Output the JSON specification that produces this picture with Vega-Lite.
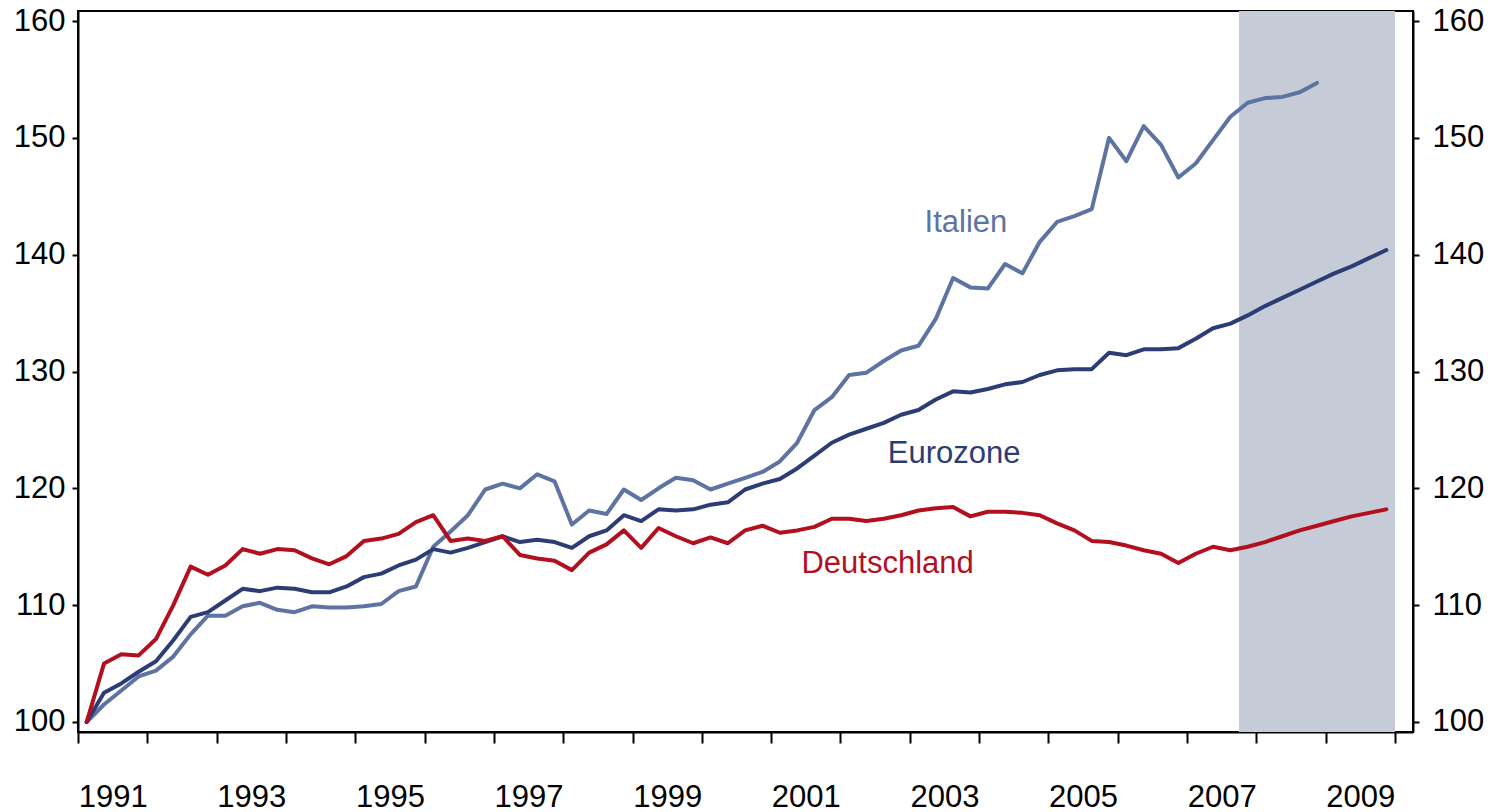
{
  "$schema": "https://vega.github.io/schema/vega-lite/v6.json",
  "width": 1335,
  "height": 721,
  "autosize": "none",
  "padding": {"left": 78, "top": 11, "right": 90, "bottom": 80},
  "background": "white",
  "config": {
    "view": {"stroke": "black", "strokeWidth": 2},
    "axis": {"grid": false, "labelFont": "Liberation Sans", "labelFontSize": 31, "labelColor": "black", "domainColor": "black", "domainWidth": 2, "tickColor": "black", "tickWidth": 2}
  },
  "datasets": {
    "series": [
      {"t":1991.125,"s":"Italien","v":100},{"t":1991.375,"s":"Italien","v":101.5},{"t":1991.625,"s":"Italien","v":102.7},{"t":1991.875,"s":"Italien","v":103.9},
      {"t":1992.125,"s":"Italien","v":104.4},{"t":1992.375,"s":"Italien","v":105.6},{"t":1992.625,"s":"Italien","v":107.5},{"t":1992.875,"s":"Italien","v":109.1},
      {"t":1993.125,"s":"Italien","v":109.1},{"t":1993.375,"s":"Italien","v":109.9},{"t":1993.625,"s":"Italien","v":110.2},{"t":1993.875,"s":"Italien","v":109.6},
      {"t":1994.125,"s":"Italien","v":109.4},{"t":1994.375,"s":"Italien","v":109.9},{"t":1994.625,"s":"Italien","v":109.8},{"t":1994.875,"s":"Italien","v":109.8},
      {"t":1995.125,"s":"Italien","v":109.9},{"t":1995.375,"s":"Italien","v":110.1},{"t":1995.625,"s":"Italien","v":111.2},{"t":1995.875,"s":"Italien","v":111.6},
      {"t":1996.125,"s":"Italien","v":115.0},{"t":1996.375,"s":"Italien","v":116.3},{"t":1996.625,"s":"Italien","v":117.7},{"t":1996.875,"s":"Italien","v":119.9},
      {"t":1997.125,"s":"Italien","v":120.4},{"t":1997.375,"s":"Italien","v":120.0},{"t":1997.625,"s":"Italien","v":121.2},{"t":1997.875,"s":"Italien","v":120.6},
      {"t":1998.125,"s":"Italien","v":116.9},{"t":1998.375,"s":"Italien","v":118.1},{"t":1998.625,"s":"Italien","v":117.8},{"t":1998.875,"s":"Italien","v":119.9},
      {"t":1999.125,"s":"Italien","v":119.0},{"t":1999.375,"s":"Italien","v":120.0},{"t":1999.625,"s":"Italien","v":120.9},{"t":1999.875,"s":"Italien","v":120.7},
      {"t":2000.125,"s":"Italien","v":119.9},{"t":2000.375,"s":"Italien","v":120.4},{"t":2000.625,"s":"Italien","v":120.9},{"t":2000.875,"s":"Italien","v":121.4},
      {"t":2001.125,"s":"Italien","v":122.3},{"t":2001.375,"s":"Italien","v":123.9},{"t":2001.625,"s":"Italien","v":126.7},{"t":2001.875,"s":"Italien","v":127.8},
      {"t":2002.125,"s":"Italien","v":129.7},{"t":2002.375,"s":"Italien","v":129.9},{"t":2002.625,"s":"Italien","v":130.9},{"t":2002.875,"s":"Italien","v":131.8},
      {"t":2003.125,"s":"Italien","v":132.2},{"t":2003.375,"s":"Italien","v":134.5},{"t":2003.625,"s":"Italien","v":138.0},{"t":2003.875,"s":"Italien","v":137.2},
      {"t":2004.125,"s":"Italien","v":137.1},{"t":2004.375,"s":"Italien","v":139.2},{"t":2004.625,"s":"Italien","v":138.4},{"t":2004.875,"s":"Italien","v":141.1},
      {"t":2005.125,"s":"Italien","v":142.8},{"t":2005.375,"s":"Italien","v":143.3},{"t":2005.625,"s":"Italien","v":143.9},{"t":2005.875,"s":"Italien","v":150.0},
      {"t":2006.125,"s":"Italien","v":148.0},{"t":2006.375,"s":"Italien","v":151.0},{"t":2006.625,"s":"Italien","v":149.4},{"t":2006.875,"s":"Italien","v":146.6},
      {"t":2007.125,"s":"Italien","v":147.8},{"t":2007.375,"s":"Italien","v":149.8},{"t":2007.625,"s":"Italien","v":151.8},{"t":2007.875,"s":"Italien","v":153.0},
      {"t":2008.125,"s":"Italien","v":153.4},{"t":2008.375,"s":"Italien","v":153.5},{"t":2008.625,"s":"Italien","v":153.9},{"t":2008.875,"s":"Italien","v":154.7},

      {"t":1991.125,"s":"Eurozone","v":100},{"t":1991.375,"s":"Eurozone","v":102.5},{"t":1991.625,"s":"Eurozone","v":103.3},{"t":1991.875,"s":"Eurozone","v":104.3},
      {"t":1992.125,"s":"Eurozone","v":105.2},{"t":1992.375,"s":"Eurozone","v":107.0},{"t":1992.625,"s":"Eurozone","v":109.0},{"t":1992.875,"s":"Eurozone","v":109.4},
      {"t":1993.125,"s":"Eurozone","v":110.4},{"t":1993.375,"s":"Eurozone","v":111.4},{"t":1993.625,"s":"Eurozone","v":111.2},{"t":1993.875,"s":"Eurozone","v":111.5},
      {"t":1994.125,"s":"Eurozone","v":111.4},{"t":1994.375,"s":"Eurozone","v":111.1},{"t":1994.625,"s":"Eurozone","v":111.1},{"t":1994.875,"s":"Eurozone","v":111.6},
      {"t":1995.125,"s":"Eurozone","v":112.4},{"t":1995.375,"s":"Eurozone","v":112.7},{"t":1995.625,"s":"Eurozone","v":113.4},{"t":1995.875,"s":"Eurozone","v":113.9},
      {"t":1996.125,"s":"Eurozone","v":114.8},{"t":1996.375,"s":"Eurozone","v":114.5},{"t":1996.625,"s":"Eurozone","v":114.9},{"t":1996.875,"s":"Eurozone","v":115.4},
      {"t":1997.125,"s":"Eurozone","v":115.9},{"t":1997.375,"s":"Eurozone","v":115.4},{"t":1997.625,"s":"Eurozone","v":115.6},{"t":1997.875,"s":"Eurozone","v":115.4},
      {"t":1998.125,"s":"Eurozone","v":114.9},{"t":1998.375,"s":"Eurozone","v":115.9},{"t":1998.625,"s":"Eurozone","v":116.4},{"t":1998.875,"s":"Eurozone","v":117.7},
      {"t":1999.125,"s":"Eurozone","v":117.2},{"t":1999.375,"s":"Eurozone","v":118.2},{"t":1999.625,"s":"Eurozone","v":118.1},{"t":1999.875,"s":"Eurozone","v":118.2},
      {"t":2000.125,"s":"Eurozone","v":118.6},{"t":2000.375,"s":"Eurozone","v":118.8},{"t":2000.625,"s":"Eurozone","v":119.9},{"t":2000.875,"s":"Eurozone","v":120.4},
      {"t":2001.125,"s":"Eurozone","v":120.8},{"t":2001.375,"s":"Eurozone","v":121.7},{"t":2001.625,"s":"Eurozone","v":122.8},{"t":2001.875,"s":"Eurozone","v":123.9},
      {"t":2002.125,"s":"Eurozone","v":124.6},{"t":2002.375,"s":"Eurozone","v":125.1},{"t":2002.625,"s":"Eurozone","v":125.6},{"t":2002.875,"s":"Eurozone","v":126.3},
      {"t":2003.125,"s":"Eurozone","v":126.7},{"t":2003.375,"s":"Eurozone","v":127.6},{"t":2003.625,"s":"Eurozone","v":128.3},{"t":2003.875,"s":"Eurozone","v":128.2},
      {"t":2004.125,"s":"Eurozone","v":128.5},{"t":2004.375,"s":"Eurozone","v":128.9},{"t":2004.625,"s":"Eurozone","v":129.1},{"t":2004.875,"s":"Eurozone","v":129.7},
      {"t":2005.125,"s":"Eurozone","v":130.1},{"t":2005.375,"s":"Eurozone","v":130.2},{"t":2005.625,"s":"Eurozone","v":130.2},{"t":2005.875,"s":"Eurozone","v":131.6},
      {"t":2006.125,"s":"Eurozone","v":131.4},{"t":2006.375,"s":"Eurozone","v":131.9},{"t":2006.625,"s":"Eurozone","v":131.9},{"t":2006.875,"s":"Eurozone","v":132.0},
      {"t":2007.125,"s":"Eurozone","v":132.8},{"t":2007.375,"s":"Eurozone","v":133.7},{"t":2007.625,"s":"Eurozone","v":134.1},{"t":2007.875,"s":"Eurozone","v":134.8},
      {"t":2008.125,"s":"Eurozone","v":135.6},{"t":2008.375,"s":"Eurozone","v":136.3},{"t":2008.625,"s":"Eurozone","v":137.0},{"t":2008.875,"s":"Eurozone","v":137.7},
      {"t":2009.125,"s":"Eurozone","v":138.4},{"t":2009.375,"s":"Eurozone","v":139.0},{"t":2009.625,"s":"Eurozone","v":139.7},{"t":2009.875,"s":"Eurozone","v":140.4},

      {"t":1991.125,"s":"Deutschland","v":100},{"t":1991.375,"s":"Deutschland","v":105.0},{"t":1991.625,"s":"Deutschland","v":105.8},{"t":1991.875,"s":"Deutschland","v":105.7},
      {"t":1992.125,"s":"Deutschland","v":107.1},{"t":1992.375,"s":"Deutschland","v":110.0},{"t":1992.625,"s":"Deutschland","v":113.3},{"t":1992.875,"s":"Deutschland","v":112.6},
      {"t":1993.125,"s":"Deutschland","v":113.4},{"t":1993.375,"s":"Deutschland","v":114.8},{"t":1993.625,"s":"Deutschland","v":114.4},{"t":1993.875,"s":"Deutschland","v":114.8},
      {"t":1994.125,"s":"Deutschland","v":114.7},{"t":1994.375,"s":"Deutschland","v":114.0},{"t":1994.625,"s":"Deutschland","v":113.5},{"t":1994.875,"s":"Deutschland","v":114.2},
      {"t":1995.125,"s":"Deutschland","v":115.5},{"t":1995.375,"s":"Deutschland","v":115.7},{"t":1995.625,"s":"Deutschland","v":116.1},{"t":1995.875,"s":"Deutschland","v":117.1},
      {"t":1996.125,"s":"Deutschland","v":117.7},{"t":1996.375,"s":"Deutschland","v":115.5},{"t":1996.625,"s":"Deutschland","v":115.7},{"t":1996.875,"s":"Deutschland","v":115.5},
      {"t":1997.125,"s":"Deutschland","v":115.9},{"t":1997.375,"s":"Deutschland","v":114.3},{"t":1997.625,"s":"Deutschland","v":114.0},{"t":1997.875,"s":"Deutschland","v":113.8},
      {"t":1998.125,"s":"Deutschland","v":113.0},{"t":1998.375,"s":"Deutschland","v":114.5},{"t":1998.625,"s":"Deutschland","v":115.2},{"t":1998.875,"s":"Deutschland","v":116.4},
      {"t":1999.125,"s":"Deutschland","v":114.9},{"t":1999.375,"s":"Deutschland","v":116.6},{"t":1999.625,"s":"Deutschland","v":115.9},{"t":1999.875,"s":"Deutschland","v":115.3},
      {"t":2000.125,"s":"Deutschland","v":115.8},{"t":2000.375,"s":"Deutschland","v":115.3},{"t":2000.625,"s":"Deutschland","v":116.4},{"t":2000.875,"s":"Deutschland","v":116.8},
      {"t":2001.125,"s":"Deutschland","v":116.2},{"t":2001.375,"s":"Deutschland","v":116.4},{"t":2001.625,"s":"Deutschland","v":116.7},{"t":2001.875,"s":"Deutschland","v":117.4},
      {"t":2002.125,"s":"Deutschland","v":117.4},{"t":2002.375,"s":"Deutschland","v":117.2},{"t":2002.625,"s":"Deutschland","v":117.4},{"t":2002.875,"s":"Deutschland","v":117.7},
      {"t":2003.125,"s":"Deutschland","v":118.1},{"t":2003.375,"s":"Deutschland","v":118.3},{"t":2003.625,"s":"Deutschland","v":118.4},{"t":2003.875,"s":"Deutschland","v":117.6},
      {"t":2004.125,"s":"Deutschland","v":118.0},{"t":2004.375,"s":"Deutschland","v":118.0},{"t":2004.625,"s":"Deutschland","v":117.9},{"t":2004.875,"s":"Deutschland","v":117.7},
      {"t":2005.125,"s":"Deutschland","v":117.0},{"t":2005.375,"s":"Deutschland","v":116.4},{"t":2005.625,"s":"Deutschland","v":115.5},{"t":2005.875,"s":"Deutschland","v":115.4},
      {"t":2006.125,"s":"Deutschland","v":115.1},{"t":2006.375,"s":"Deutschland","v":114.7},{"t":2006.625,"s":"Deutschland","v":114.4},{"t":2006.875,"s":"Deutschland","v":113.6},
      {"t":2007.125,"s":"Deutschland","v":114.4},{"t":2007.375,"s":"Deutschland","v":115.0},{"t":2007.625,"s":"Deutschland","v":114.7},{"t":2007.875,"s":"Deutschland","v":115.0},
      {"t":2008.125,"s":"Deutschland","v":115.4},{"t":2008.375,"s":"Deutschland","v":115.9},{"t":2008.625,"s":"Deutschland","v":116.4},{"t":2008.875,"s":"Deutschland","v":116.8},
      {"t":2009.125,"s":"Deutschland","v":117.2},{"t":2009.375,"s":"Deutschland","v":117.6},{"t":2009.625,"s":"Deutschland","v":117.9},{"t":2009.875,"s":"Deutschland","v":118.2}
    ],
    "shade": [{"start": 2007.75, "end": 2010}],
    "labels": [
      {"t": 2003.81, "v": 141.95, "s": "Italien"},
      {"t": 2003.64, "v": 122.17, "s": "Eurozone"},
      {"t": 2002.68, "v": 112.76, "s": "Deutschland"}
    ]
  },
  "layer": [
    {
      "data": {"name": "shade"},
      "mark": {"type": "rect", "color": "#c6cbd8"},
      "encoding": {
        "x": {
          "field": "start", "type": "quantitative", "title": null,
          "scale": {"domain": [1991, 2010.26], "nice": false, "zero": false},
          "axis": {
            "values": [1991,1992,1993,1994,1995,1996,1997,1998,1999,2000,2001,2002,2003,2004,2005,2006,2007,2008,2009,2010],
            "format": "d",
            "labelExpr": "datum.value % 2 == 1 ? datum.label : ''",
            "labelOffset": 34.66,
            "labelAlign": "center",
            "labelBaseline": "top",
            "tickSize": 11,
            "labelPadding": 39,
            "labelOverlap": false,
            "labelBound": false,
            "labelFlush": false,
            "title": null
          }
        },
        "x2": {"field": "end"}
      }
    },
    {
      "data": {"name": "series"},
      "mark": {"type": "line", "strokeWidth": 4, "strokeJoin": "round", "strokeCap": "round"},
      "encoding": {
        "x": {"field": "t", "type": "quantitative", "title": null},
        "y": {
          "field": "v", "type": "quantitative", "title": null,
          "scale": {"domain": [99.144, 160.856], "nice": false, "zero": false},
          "axis": {"orient": "left", "values": [100,110,120,130,140,150,160], "tickSize": 6, "labelPadding": 7, "title": null}
        },
        "color": {
          "field": "s", "type": "nominal", "legend": null,
          "scale": {"domain": ["Italien", "Eurozone", "Deutschland"], "range": ["#5d73a1", "#2c3c74", "#b3101f"]}
        },
        "order": {"field": "t"}
      }
    },
    {
      "data": {"name": "labels"},
      "mark": {"type": "text", "font": "Liberation Sans", "fontSize": 31, "align": "center", "baseline": "alphabetic"},
      "encoding": {
        "x": {"field": "t", "type": "quantitative", "title": null},
        "y": {
          "field": "v", "type": "quantitative", "title": null,
          "axis": {"orient": "right", "values": [100,110,120,130,140,150,160], "tickSize": 6, "labelPadding": 13, "title": null}
        },
        "text": {"field": "s"},
        "color": {"field": "s", "type": "nominal", "legend": null}
      }
    }
  ],
  "resolve": {"axis": {"y": "independent"}}
}
